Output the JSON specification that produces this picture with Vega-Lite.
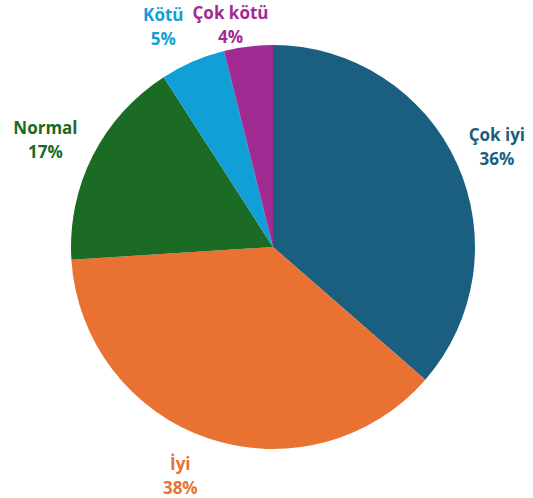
{
  "$schema": "https://vega.github.io/schema/vega-lite/v6.json",
  "width": 520,
  "height": 494,
  "autosize": "none",
  "padding": {"left": 13, "top": 0, "right": 0, "bottom": 4},
  "background": "white",
  "config": {"view": {"stroke": null}},
  "data": {
    "values": [
      {"k": 1, "cat": "Çok iyi", "value": 36.4, "label": "Çok iyi\n36%"},
      {"k": 2, "cat": "İyi", "value": 37.6, "label": "İyi\n38%"},
      {"k": 3, "cat": "Normal", "value": 16.9, "label": "Normal\n17%"},
      {"k": 4, "cat": "Kötü", "value": 5.2, "label": "Kötü\n5%"},
      {"k": 5, "cat": "Çok kötü", "value": 3.9, "label": "Çok kötü\n4%"}
    ]
  },
  "encoding": {
    "theta": {"field": "value", "type": "quantitative", "stack": true},
    "order": {"field": "k", "type": "quantitative"},
    "color": {
      "field": "cat",
      "type": "nominal",
      "legend": null,
      "scale": {
        "domain": ["Çok iyi", "İyi", "Normal", "Kötü", "Çok kötü"],
        "range": ["#1a5e80", "#e97132", "#1b6b24", "#10a0d7", "#a02b93"]
      }
    }
  },
  "layer": [
    {"mark": {"type": "arc", "outerRadius": 202}},
    {
      "mark": {"type": "text", "radius": 246, "dy": -9, "lineBreak": "\n", "lineHeight": 24, "baseline": "middle", "font": "Open Sans", "fontWeight": "bold", "fontSize": 17},
      "encoding": {"text": {"condition": {"test": "datum.cat === 'Çok iyi'", "field": "label"}, "value": ""}}
    },
    {
      "mark": {"type": "text", "radius": 239, "dx": -16, "dy": -8, "lineBreak": "\n", "lineHeight": 24, "baseline": "middle", "font": "Open Sans", "fontWeight": "bold", "fontSize": 17},
      "encoding": {"text": {"condition": {"test": "datum.cat === 'İyi'", "field": "label"}, "value": ""}}
    },
    {
      "mark": {"type": "text", "radius": 255, "dy": -3, "lineBreak": "\n", "lineHeight": 24, "baseline": "middle", "font": "Open Sans", "fontWeight": "bold", "fontSize": 17},
      "encoding": {"text": {"condition": {"test": "datum.cat === 'Normal'", "field": "label"}, "value": ""}}
    },
    {
      "mark": {"type": "text", "radius": 241, "dx": -14, "dy": -10, "lineBreak": "\n", "lineHeight": 24, "baseline": "middle", "font": "Open Sans", "fontWeight": "bold", "fontSize": 17},
      "encoding": {"text": {"condition": {"test": "datum.cat === 'Kötü'", "field": "label"}, "value": ""}}
    },
    {
      "mark": {"type": "text", "radius": 225, "dx": -15, "dy": -10, "lineBreak": "\n", "lineHeight": 24, "baseline": "middle", "font": "Open Sans", "fontWeight": "bold", "fontSize": 17},
      "encoding": {"text": {"condition": {"test": "datum.cat === 'Çok kötü'", "field": "label"}, "value": ""}}
    }
  ]
}
